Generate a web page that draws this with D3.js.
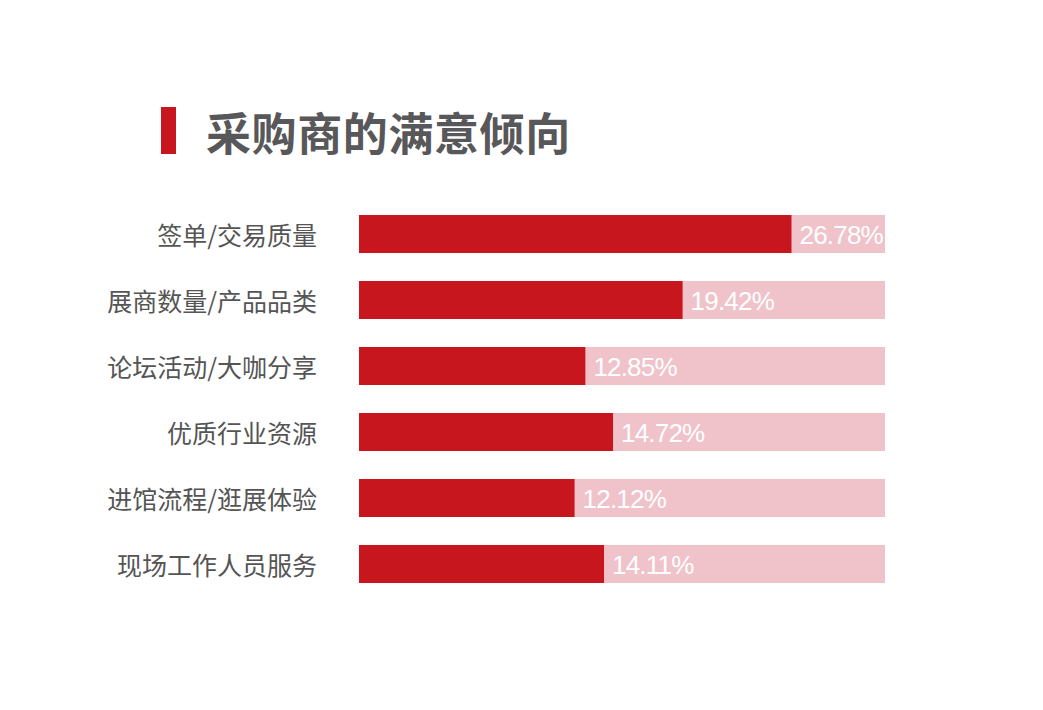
<!DOCTYPE html>
<html>
<head>
<meta charset="utf-8">
<script src="https://cdn.jsdelivr.net/npm/d3@7"></script>
<style>
  html, body { margin: 0; padding: 0; background: #ffffff; }
  svg { display: block; }
</style>
</head>
<body>
<svg id="chart" width="1043" height="710"></svg>
<script>
const title = "采购商的满意倾向";
const categories = ["签单/交易质量", "展商数量/产品品类", "论坛活动/大咖分享", "优质行业资源", "进馆流程/逛展体验", "现场工作人员服务"];
const values = [26.78, 19.42, 12.85, 14.72, 12.12, 14.11];
const axisDomain = [-2.45, 33.1];

const svg = d3.select("#chart");
const fontCJK = "'Noto Sans CJK SC', 'Noto Sans', sans-serif";

// Title marker and text
svg.append("rect")
  .attr("x", 161).attr("y", 107).attr("width", 15).attr("height", 47)
  .attr("fill", "#c8161e");
svg.append("text")
  .attr("x", 206).attr("y", 131)
  .attr("dominant-baseline", "central")
  .attr("font-family", fontCJK)
  .attr("font-weight", "bold")
  .attr("font-size", 45)
  .attr("letter-spacing", 0.6)
  .attr("fill", "#58585a")
  .text(title);

const x = d3.scaleLinear().domain(axisDomain).range([359, 885]);
const y = d3.scaleBand().domain(categories).range([215, 583]).paddingInner(0.424).paddingOuter(0);

const data = categories.map((c, i) => ({ c, v: values[i] }));

const rows = svg.append("g").selectAll("g").data(data).join("g");

rows.append("rect")
  .attr("x", x(axisDomain[0])).attr("y", d => y(d.c))
  .attr("width", x(axisDomain[1]) - x(axisDomain[0])).attr("height", y.bandwidth())
  .attr("fill", "#f0c3ca");

rows.append("rect")
  .attr("x", x(axisDomain[0])).attr("y", d => y(d.c))
  .attr("width", d => x(d.v) - x(axisDomain[0])).attr("height", y.bandwidth())
  .attr("fill", "#c8161e");

rows.append("text")
  .attr("x", 317).attr("y", d => y(d.c) + y.bandwidth() / 2)
  .attr("text-anchor", "end")
  .attr("dominant-baseline", "central")
  .attr("font-family", fontCJK)
  .attr("font-size", 25)
  .attr("fill", "#555555")
  .text(d => d.c);

rows.append("text")
  .attr("x", d => x(d.v) + 8).attr("y", d => y(d.c) + y.bandwidth() / 2 + 1)
  .attr("dominant-baseline", "central")
  .attr("font-family", "'Liberation Sans', Arial, sans-serif")
  .attr("font-size", 26)
  .attr("letter-spacing", -0.8)
  .attr("fill", "#ffffff")
  .text(d => d.v.toFixed(2) + "%");
</script>
</body>
</html>
